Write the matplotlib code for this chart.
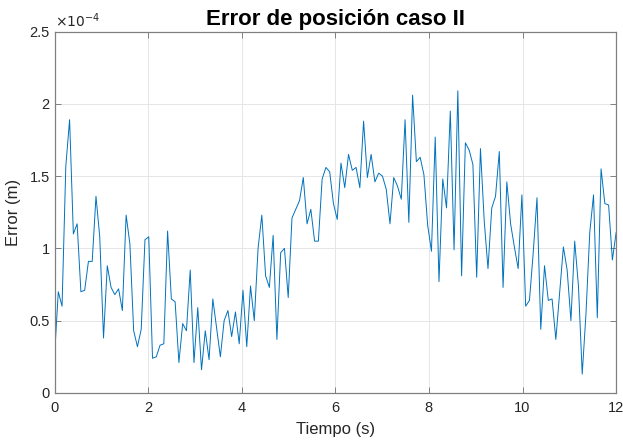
import numpy as np
import matplotlib
matplotlib.use("Agg")
import matplotlib.pyplot as plt
from matplotlib.ticker import FuncFormatter

plt.rcParams['font.family'] = ['Liberation Sans', 'DejaVu Sans']

error_e4 = [
    0.25, 0.70, 0.60, 1.57, 1.89, 1.10, 1.17, 0.70, 0.71, 0.91,
    0.91, 1.36, 1.08, 0.38, 0.88, 0.73, 0.68, 0.72, 0.57, 1.23,
    1.03, 0.43, 0.32, 0.44, 1.06, 1.08,
    0.24, 0.25, 0.33, 0.34, 1.12, 0.65, 0.63, 0.21, 0.48, 0.43,
    0.85, 0.21, 0.59, 0.16, 0.43, 0.23, 0.65, 0.45, 0.25, 0.50,
    0.57, 0.39, 0.56, 0.34, 0.71,
    0.32, 0.74, 0.50, 1.00, 1.23, 0.81, 0.73, 1.09, 0.37, 0.97,
    1.00, 0.66, 1.21, 1.27, 1.33, 1.49, 1.17, 1.27, 1.05, 1.05,
    1.48, 1.56, 1.53, 1.31, 1.20,
    1.59, 1.42, 1.65, 1.54, 1.56, 1.42, 1.88, 1.49, 1.65, 1.46,
    1.52, 1.50, 1.41, 1.17, 1.49, 1.43, 1.34, 1.89, 1.18, 2.06,
    1.60, 1.63, 1.51, 1.16, 0.98,
    1.77, 0.77, 1.48, 1.28, 1.95, 0.99, 2.09, 0.81, 1.73, 1.68,
    1.58, 0.80, 1.69, 1.19, 0.86, 1.28, 1.36, 1.67, 0.73, 1.46,
    1.17, 1.01, 0.86, 1.37, 0.60, 0.64,
    0.97, 1.35, 0.44, 0.88, 0.64, 0.65, 0.37, 0.69, 1.01, 0.85,
    0.50, 1.05, 0.74, 0.13, 0.55, 1.11, 1.37, 0.52, 1.55, 1.31,
    1.30, 0.92, 1.11,
]

error = np.array(error_e4) * 1e-4
t = np.linspace(0, 12, len(error))

fig = plt.figure(figsize=(6.23, 4.41), dpi=100)
ax = fig.add_axes([0.0875, 0.109, 0.9015, 0.8195])

ax.plot(t, error, color='#0072BD', linewidth=0.7)

ax.set_xlim(0, 12)
ax.set_ylim(0, 2.5e-4)
ax.set_xticks(np.arange(0, 13, 2))
ax.set_yticks(np.arange(0, 2.51e-4, 0.5e-4))
ax.yaxis.set_major_formatter(FuncFormatter(lambda v, p: '%g' % round(v / 1e-4, 3)))

ax.grid(True, color='#e6e6e6', linewidth=0.7)
ax.set_axisbelow(True)
for s in ax.spines.values():
    s.set_color('#808080')
    s.set_linewidth(0.9)
ax.tick_params(direction='in', length=4, width=0.7, colors='#808080',
               labelcolor='#262626', labelsize=10.5, top=True, right=True)
ax.tick_params(axis='x', pad=6)

ax.text(0.0, 1.005, r'$\times 10^{-4}$', transform=ax.transAxes,
        fontsize=10, color='#262626', ha='left', va='bottom')

ax.set_title('Error de posición caso II', fontsize=16, fontweight='bold',
             color='black', pad=5)
ax.set_xlabel('Tiempo (s)', fontsize=12, color='#262626', labelpad=5)
ax.set_ylabel('Error (m)', fontsize=12, color='#262626', labelpad=6)

fig.savefig('out.png', dpi=100)
